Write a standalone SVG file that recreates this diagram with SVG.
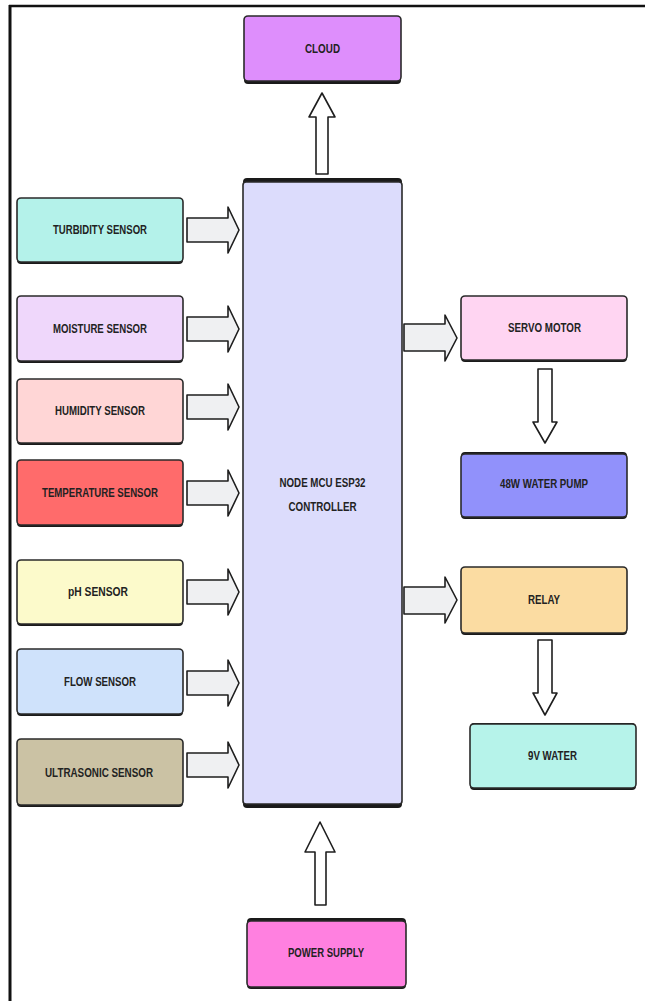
<svg xmlns="http://www.w3.org/2000/svg" width="645" height="1001" viewBox="0 0 645 1001">
<style>
.box{stroke:#2a2a2a;stroke-width:1.6}
.sh{fill:#1a1a1a}
.lbl{font-family:"Liberation Sans",Arial,sans-serif;font-size:13px;font-weight:bold;fill:#222;text-anchor:middle}
.arr{fill:#eff0f2;stroke:#1e1e1e;stroke-width:1.6;stroke-linejoin:round}
.varr{fill:#ffffff;stroke:#1e1e1e;stroke-width:1.6;stroke-linejoin:round}
</style>
<rect x="0" y="0" width="645" height="1001" fill="#ffffff"/>
<g id="frame">
<line x1="9" y1="6" x2="645" y2="6" stroke="#111" stroke-width="2.5"/>
<line x1="10" y1="5" x2="10" y2="1001" stroke="#111" stroke-width="3"/>
</g>
<g id="connectors">
<path class="varr" d="M316,174 V117 H309 L322,93 L335,117 H328 V174 Z"/>
<path class="arr" d="M187,218 H228 V207 L239,230 L228,253 V242 H187 Z"/>
<path class="arr" d="M187,317 H228 V306 L239,329 L228,352 V341 H187 Z"/>
<path class="arr" d="M187,395 H228 V384 L239,407 L228,430 V419 H187 Z"/>
<path class="arr" d="M187,481 H228 V470 L239,493 L228,516 V505 H187 Z"/>
<path class="arr" d="M187,580 H228 V569 L239,592 L228,615 V604 H187 Z"/>
<path class="arr" d="M187,671 H228 V660 L239,683 L228,706 V695 H187 Z"/>
<path class="arr" d="M187,753 H228 V742 L239,765 L228,788 V777 H187 Z"/>
<path class="arr" d="M404,324 H445 V315 L457,338 L445,361 V351 H404 Z"/>
<path class="arr" d="M404,587 H445 V577 L457,600 L445,623 V614 H404 Z"/>
<path class="varr" d="M538,369 H552 V422 H557 L545,443 L533,422 H538 Z"/>
<path class="varr" d="M538,640 H552 V693 H557 L545,715 L533,693 H538 Z"/>
<path class="varr" d="M315,905 V852 H305 L320,822 L335,852 H326 V905 Z"/>
</g>
<g id="cloud">
<rect class="sh" x="244" y="17" width="157" height="67" rx="4"/>
<rect class="box" x="244" y="16" width="157" height="65" rx="4" fill="#de8efc"/>
<text class="lbl" x="322.5" y="53" textLength="35" lengthAdjust="spacingAndGlyphs">CLOUD</text>
</g>
<g id="controller">
<rect class="sh" x="243" y="178" width="159" height="630" rx="4"/>
<rect class="box" x="243" y="182" width="159" height="622" rx="3" fill="#dcdcfc"/>
<text class="lbl" x="322.5" y="487" textLength="86" lengthAdjust="spacingAndGlyphs">NODE MCU ESP32</text>
<text class="lbl" x="322.5" y="511" textLength="68" lengthAdjust="spacingAndGlyphs">CONTROLLER</text>
</g>
<g id="turbidity">
<rect class="sh" x="17" y="198" width="166" height="66" rx="4"/>
<rect class="box" x="17" y="198" width="166" height="64" rx="4" fill="#b4f2ea"/>
<text class="lbl" x="100" y="234" textLength="94" lengthAdjust="spacingAndGlyphs">TURBIDITY SENSOR</text>
</g>
<g id="moisture">
<rect class="sh" x="17" y="296" width="166" height="67" rx="4"/>
<rect class="box" x="17" y="296" width="166" height="65" rx="4" fill="#efd7fb"/>
<text class="lbl" x="100" y="333" textLength="94" lengthAdjust="spacingAndGlyphs">MOISTURE SENSOR</text>
</g>
<g id="humidity">
<rect class="sh" x="17" y="379" width="166" height="66" rx="4"/>
<rect class="box" x="17" y="379" width="166" height="64" rx="4" fill="#ffd6d6"/>
<text class="lbl" x="100" y="415" textLength="90" lengthAdjust="spacingAndGlyphs">HUMIDITY SENSOR</text>
</g>
<g id="temperature">
<rect class="sh" x="17" y="460" width="166" height="67" rx="4"/>
<rect class="box" x="17" y="460" width="166" height="65" rx="4" fill="#ff6b6b"/>
<text class="lbl" x="100" y="497" textLength="116" lengthAdjust="spacingAndGlyphs">TEMPERATURE SENSOR</text>
</g>
<g id="ph">
<rect class="sh" x="17" y="560" width="166" height="66" rx="4"/>
<rect class="box" x="17" y="560" width="166" height="64" rx="4" fill="#fcfacb"/>
<text class="lbl" x="98" y="596" textLength="60" lengthAdjust="spacingAndGlyphs">pH SENSOR</text>
</g>
<g id="flow">
<rect class="sh" x="17" y="649" width="166" height="67" rx="4"/>
<rect class="box" x="17" y="649" width="166" height="65" rx="4" fill="#cfe2fb"/>
<text class="lbl" x="100" y="686" textLength="72" lengthAdjust="spacingAndGlyphs">FLOW SENSOR</text>
</g>
<g id="ultrasonic">
<rect class="sh" x="17" y="739" width="166" height="68" rx="4"/>
<rect class="box" x="17" y="739" width="166" height="66" rx="4" fill="#cbc2a4"/>
<text class="lbl" x="99" y="777" textLength="108" lengthAdjust="spacingAndGlyphs">ULTRASONIC SENSOR</text>
</g>
<g id="servo">
<rect class="sh" x="461" y="296" width="166" height="66" rx="4"/>
<rect class="box" x="461" y="296" width="166" height="64" rx="4" fill="#ffd5f2"/>
<text class="lbl" x="544.5" y="332" textLength="73" lengthAdjust="spacingAndGlyphs">SERVO MOTOR</text>
</g>
<g id="pump">
<rect class="sh" x="461" y="452" width="166" height="67" rx="4"/>
<rect class="box" x="461" y="454" width="166" height="63" rx="4" fill="#9191fb"/>
<text class="lbl" x="544" y="488" textLength="88" lengthAdjust="spacingAndGlyphs">48W WATER PUMP</text>
</g>
<g id="relay">
<rect class="sh" x="461" y="567" width="166" height="68" rx="4"/>
<rect class="box" x="461" y="567" width="166" height="66" rx="4" fill="#fbdca2"/>
<text class="lbl" x="544" y="604" textLength="32" lengthAdjust="spacingAndGlyphs">RELAY</text>
</g>
<g id="water9v">
<rect class="sh" x="470" y="723" width="166" height="67" rx="4"/>
<rect class="box" x="470" y="724" width="166" height="64" rx="4" fill="#b6f3ea"/>
<text class="lbl" x="552.5" y="760" textLength="49" lengthAdjust="spacingAndGlyphs">9V WATER</text>
</g>
<g id="power">
<rect class="sh" x="247" y="918" width="159" height="71" rx="4"/>
<rect class="box" x="247" y="921" width="159" height="66" rx="4" fill="#ff80e0"/>
<text class="lbl" x="326" y="957" textLength="76" lengthAdjust="spacingAndGlyphs">POWER SUPPLY</text>
</g>
</svg>
